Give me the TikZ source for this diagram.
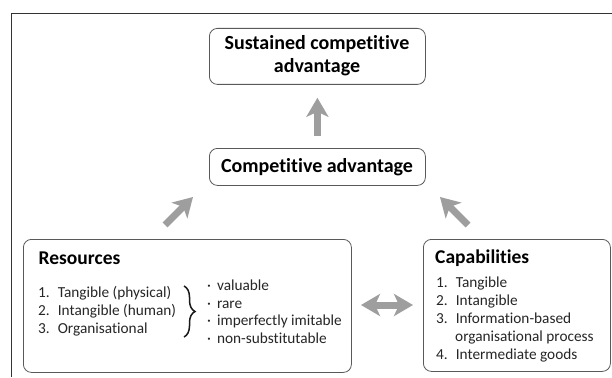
\documentclass[tikz,border=0pt]{standalone}
\usepackage{fontspec}
\setmainfont{Carlito}[Ligatures=NoCommon]
\usetikzlibrary{arrows.meta,decorations.pathreplacing,calc}
\definecolor{arrowgrey}{gray}{0.62}
\definecolor{boxline}{gray}{0.35}
\definecolor{bodytext}{gray}{0.15}
\tikzset{
  x=1pt,y=-1pt,
  bx/.style={draw=boxline,line width=0.8pt,rounded corners=8pt,anchor=north west,inner sep=0pt},
  ttl/.style={font=\fontsize{19.5}{21}\bfseries\selectfont,text=black,anchor=west,inner sep=0pt},
  ttc/.style={font=\fontsize{20}{23}\bfseries\selectfont,text=black,align=center,inner sep=0pt},
  body/.style={font=\fontsize{15.3}{17.8}\selectfont,text=bodytext,anchor=north west,align=left,inner sep=0pt},
  fat/.style={draw=arrowgrey,line width=7pt,-{Stealth[length=19pt,width=22pt,inset=5pt]}},
  fatboth/.style={draw=arrowgrey,line width=7pt,{Stealth[length=19pt,width=22pt,inset=5pt]}-{Stealth[length=19pt,width=22pt,inset=5pt]}},
}
\begin{document}
\begin{tikzpicture}
\useasboundingbox (0,0) rectangle (612,377);
\fill[white] (0,0) rectangle (612,377);
\draw[line width=0.9pt,black!80] (11,377) -- (11,13.5) -- (612,13.5);
\node[bx,minimum width=216pt,minimum height=56pt] (sus) at (209,28) {};
\node[ttc] (sust) at (317,56) {Sustained competitive\\advantage};
\node[bx,minimum width=216pt,minimum height=37pt] (comp) at (209,148) {};
\node[ttc] (compt) at (317,167) {Competitive advantage};
\node[bx,minimum width=328pt,minimum height=133pt] (res) at (23,239) {};
\node[bx,minimum width=187pt,minimum height=132pt] (cap) at (423,239) {};
\node[ttl] (rest) at (38.5,258) {Resources};
\node[ttl] (capt) at (435,258) {Capabilities};
\node[body] (resl) at (38,286.5) {1.\hspace{8pt}Tangible (physical)\\2.\hspace{8pt}Intangible (human)\\3.\hspace{8pt}Organisational};
\node[body] (resr) at (207,279.5) {·\hspace{6pt}valuable\\·\hspace{6pt}rare\\·\hspace{6pt}imperfectly imitable\\·\hspace{6pt}non-substitutable};
\node[body] (capl) at (436,277) {1.\hspace{8pt}Tangible\\2.\hspace{8pt}Intangible\\3.\hspace{8pt}Information-based\\\hspace{19pt}organisational process\\4.\hspace{8pt}Intermediate goods};
\coordinate (bt) at (184,286);
\coordinate (bb) at (184,337);
\draw[line width=1.5pt,black!90,decorate,decoration={brace,amplitude=11pt,aspect=0.5}] (bt) -- (bb);
\draw[fat,shorten >=13pt,shorten <=12pt] (comp.north) -- (sus.south);
\coordinate (al) at (165,225);
\coordinate (tl) at (193,197);
\coordinate (ar) at (468,225);
\coordinate (tr) at (440,197);
\coordinate (dl) at (361,305);
\coordinate (dr) at (413,305);
\draw[fat] (al) -- (tl);
\draw[fat] (ar) -- (tr);
\draw[fatboth] (dl) -- (dr);
\end{tikzpicture}
\end{document}
